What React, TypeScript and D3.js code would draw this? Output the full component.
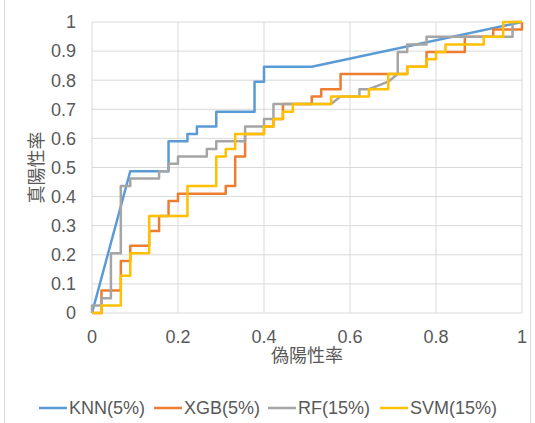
import * as d3 from "d3";

// ROC curves: [false positive rate, true positive rate]
const knn: [number, number][] = [
  [0, 0], [0.089, 0.487], [0.178, 0.487], [0.178, 0.59], [0.222, 0.59], [0.222, 0.615],
  [0.244, 0.615], [0.244, 0.641], [0.289, 0.641], [0.289, 0.692], [0.378, 0.692],
  [0.378, 0.795], [0.4, 0.795], [0.4, 0.846], [0.511, 0.846], [1, 1],
];

const xgb: [number, number][] = [
  [0, 0], [0.022, 0], [0.022, 0.077], [0.067, 0.077], [0.067, 0.179], [0.089, 0.179],
  [0.089, 0.231], [0.133, 0.231], [0.133, 0.282], [0.156, 0.282], [0.156, 0.333],
  [0.178, 0.333], [0.178, 0.385], [0.2, 0.385], [0.2, 0.41], [0.311, 0.41], [0.311, 0.436],
  [0.333, 0.436], [0.333, 0.538], [0.356, 0.538], [0.356, 0.615], [0.4, 0.615], [0.4, 0.641],
  [0.422, 0.641], [0.422, 0.667], [0.444, 0.667], [0.444, 0.718], [0.511, 0.718],
  [0.511, 0.744], [0.533, 0.744], [0.533, 0.769], [0.578, 0.769], [0.578, 0.821],
  [0.733, 0.821], [0.733, 0.846], [0.778, 0.846], [0.778, 0.897], [0.867, 0.897],
  [0.867, 0.949], [0.933, 0.949], [0.933, 0.974], [1, 0.974], [1, 1],
];

const rf: [number, number][] = [
  [0, 0], [0, 0.026], [0.022, 0.026], [0.022, 0.051], [0.044, 0.051], [0.044, 0.205],
  [0.067, 0.205], [0.067, 0.436], [0.089, 0.436], [0.089, 0.462], [0.156, 0.462],
  [0.156, 0.487], [0.178, 0.487], [0.178, 0.513], [0.2, 0.513], [0.2, 0.538], [0.267, 0.538],
  [0.267, 0.564], [0.289, 0.564], [0.289, 0.59], [0.356, 0.59], [0.356, 0.641], [0.4, 0.641],
  [0.4, 0.667], [0.422, 0.667], [0.422, 0.718], [0.556, 0.718], [0.578, 0.744],
  [0.622, 0.744], [0.622, 0.769], [0.644, 0.769], [0.689, 0.795], [0.711, 0.821],
  [0.711, 0.897], [0.733, 0.897], [0.733, 0.923], [0.778, 0.923], [0.778, 0.949],
  [0.978, 0.949], [0.978, 1], [1, 1],
];

const svm: [number, number][] = [
  [0, 0], [0.022, 0], [0.022, 0.026], [0.067, 0.026], [0.067, 0.128], [0.089, 0.128],
  [0.089, 0.205], [0.133, 0.205], [0.133, 0.333], [0.222, 0.333], [0.222, 0.436],
  [0.289, 0.436], [0.289, 0.538], [0.311, 0.538], [0.311, 0.564], [0.333, 0.564],
  [0.333, 0.615], [0.4, 0.615], [0.4, 0.641], [0.422, 0.641], [0.422, 0.667], [0.444, 0.667],
  [0.444, 0.692], [0.467, 0.692], [0.467, 0.718], [0.556, 0.718], [0.556, 0.744],
  [0.644, 0.744], [0.644, 0.769], [0.689, 0.769], [0.689, 0.821], [0.733, 0.821],
  [0.733, 0.846], [0.778, 0.846], [0.778, 0.872], [0.8, 0.872], [0.8, 0.897], [0.822, 0.897],
  [0.822, 0.923], [0.911, 0.923], [0.911, 0.949], [0.956, 0.949], [0.956, 1], [1, 1],
];

const seriesNames = ["KNN(5%)", "XGB(5%)", "RF(15%)", "SVM(15%)"];
const seriesData = [knn, xgb, rf, svm];
const seriesColors = ["#5B9BD5", "#ED7D31", "#A5A5A5", "#FFC000"];

const xTicks = [0, 0.2, 0.4, 0.6, 0.8, 1];
const yTicks = [0, 0.1, 0.2, 0.3, 0.4, 0.5, 0.6, 0.7, 0.8, 0.9, 1];
const xTitle = "偽陽性率";
const yTitle = "真陽性率";

const legendX = [39, 154, 268, 380];

export default function App() {
  const width = 535;
  const height = 423;
  const left = 92;
  const right = 522;
  const top = 22;
  const bottom = 313;
  const x = d3.scaleLinear().domain([0, 1]).range([left, right]);
  const y = d3.scaleLinear().domain([0, 1]).range([bottom, top]);
  const line = d3
    .line<[number, number]>()
    .x((d) => x(d[0]))
    .y((d) => y(d[1]));
  const font = '"Liberation Sans", Arial, "Noto Sans CJK JP", sans-serif';
  const textColor = "#595959";

  return (
    <div style={{ position: "absolute", left: 0, top: 0 }}>
      <svg width={width} height={height} style={{ display: "block", fontFamily: font }}>
        <rect x={0} y={0} width={width} height={height} fill="#ffffff" />
        <rect x={4.5} y={-2} width={526} height={height + 4} fill="none" stroke="#D9D9D9" />
        {xTicks.map((t) => (
          <line key={`gx${t}`} x1={x(t)} x2={x(t)} y1={y(0)} y2={y(1)} stroke="#D9D9D9" strokeWidth={1} />
        ))}
        {yTicks.map((t) => (
          <line key={`gy${t}`} x1={x(0)} x2={x(1)} y1={y(t)} y2={y(t)} stroke="#D9D9D9" strokeWidth={1} />
        ))}
        {xTicks.map((t) => (
          <text key={`tx${t}`} x={x(t)} y={y(0) + 30} textAnchor="middle" fontSize={18} fill={textColor}>
            {String(t)}
          </text>
        ))}
        {yTicks.map((t) => (
          <text key={`ty${t}`} x={x(0) - 16} y={y(t)} dy="0.35em" textAnchor="end" fontSize={18} fill={textColor}>
            {String(t)}
          </text>
        ))}
        <text x={(left + right) / 2} y={362} textAnchor="middle" fontSize={18} fill={textColor}>
          {xTitle}
        </text>
        <text
          transform={`translate(37, ${(top + bottom) / 2}) rotate(-90)`}
          textAnchor="middle"
          dy="0.35em"
          fontSize={18}
          fill={textColor}
        >
          {yTitle}
        </text>
        {seriesData.map((data, i) => (
          <path
            key={seriesNames[i]}
            d={line(data) ?? ""}
            fill="none"
            stroke={seriesColors[i]}
            strokeWidth={2.5}
            strokeLinejoin="round"
          />
        ))}
        {seriesNames.map((name, i) => (
          <g key={`lg${name}`} transform={`translate(${legendX[i]}, 408)`}>
            <line x1={0} x2={28} y1={0} y2={0} stroke={seriesColors[i]} strokeWidth={2.5} />
            <text x={30} y={0} dy="0.35em" fontSize={18} fill={textColor}>
              {name}
            </text>
          </g>
        ))}
      </svg>
    </div>
  );
}
